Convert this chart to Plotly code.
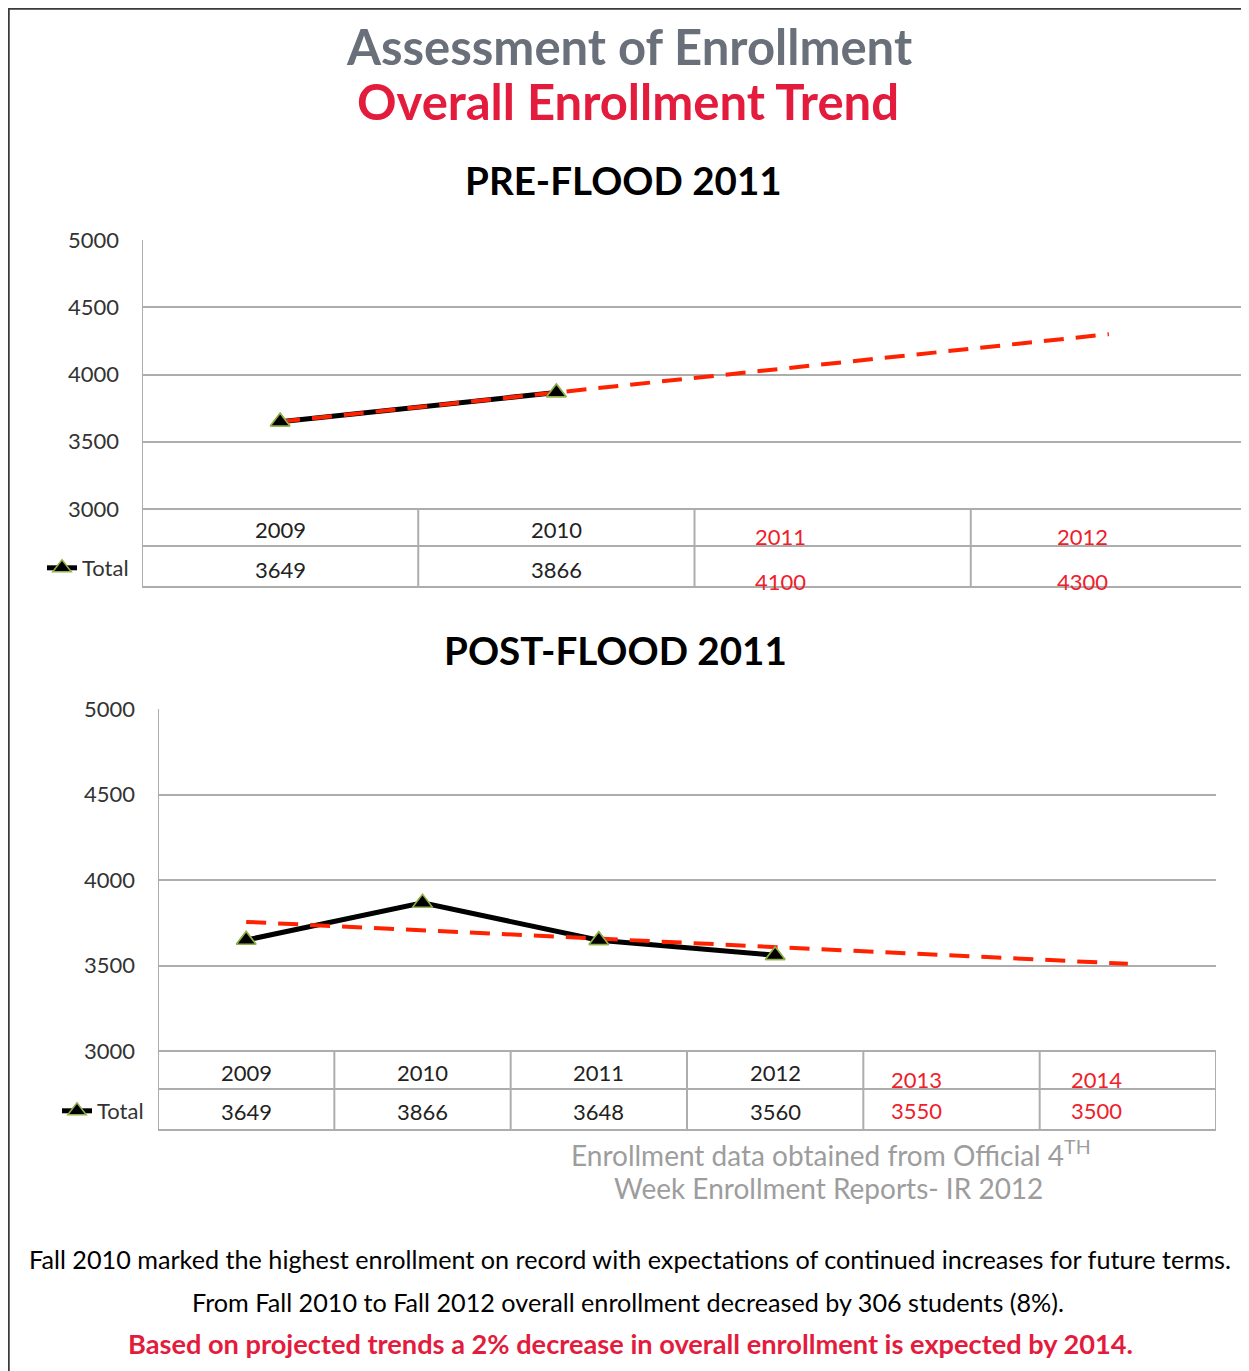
import plotly.graph_objects as go

# ---------------- data ----------------
years_pre = ["2009", "2010", "2011", "2012"]
actual_pre_years = ["2009", "2010"]
actual_pre = [3649, 3866]
trend_pre = [3649, 3866, 4085, 4300]
table_pre = ["3649", "3866", "4100", "4300"]
projected_pre = [False, False, True, True]

years_post = ["2009", "2010", "2011", "2012", "2013", "2014"]
actual_post_years = ["2009", "2010", "2011", "2012"]
actual_post = [3649, 3866, 3648, 3560]
trend_post = [3755, 3705, 3655, 3610, 3560, 3510]
table_post = ["3649", "3866", "3648", "3560", "3550", "3500"]
projected_post = [False, False, False, False, True, True]

y_ticks = [3000, 3500, 4000, 4500, 5000]

# ---------------- styles ----------------
OFF = 8                      # page body margin of the browser
W, H = 1249 - OFF, 1371 - OFF
FONT = "Lato, 'Open Sans', sans-serif"
GRID = "#adadad"
RED = "#f0202a"
TREND = "#ff2200"
TITLE_GRAY = "#6a7079"
TITLE_RED = "#e31b3c"
TXT = "#222222"


def px(x):
    return (x - OFF) / W


def py(y):
    return 1 - (y - OFF) / H


fig = go.Figure()

# chart geometry (reference pixels)
c1 = dict(x0=142, x1=1247, y0=240, y1=509, r1=546, r2=587, leg=20)
c2 = dict(x0=158, x1=1216, y0=709, y1=1051, r1=1089, r2=1130, leg=35)

marker = dict(symbol="triangle-up", size=17, color="black",
              line=dict(color="#8fb14a", width=1.5))


def add_chart(xr, yr, legend_name, years, act_years, act, trend):
    fig.add_trace(go.Scatter(x=act_years, y=act, mode="lines+markers",
                             name="Total", line=dict(color="black", width=5),
                             marker=marker, xaxis=xr, yaxis=yr,
                             legend=legend_name, showlegend=True))
    fig.add_trace(go.Scatter(x=years, y=trend, mode="lines",
                             line=dict(color=TREND, width=4, dash="20px,12px"),
                             xaxis=xr, yaxis=yr, showlegend=False))
    fig.add_trace(go.Scatter(x=act_years, y=act, mode="markers",
                             marker=marker, xaxis=xr, yaxis=yr, showlegend=False))


add_chart("x", "y", "legend", years_pre, actual_pre_years, actual_pre, trend_pre)
add_chart("x2", "y2", "legend2", years_post, actual_post_years, actual_post, trend_post)

axis_common = dict(showgrid=False, showticklabels=False, zeroline=False,
                   showline=False, fixedrange=True, automargin=False)
yaxis_common = dict(range=[3000, 5000], tickvals=y_ticks, showgrid=True,
                    gridcolor=GRID, gridwidth=2, zeroline=False, showline=False,
                    ticks="", ticklabelstandoff=22, automargin=False,
                    tickfont=dict(family=FONT, size=22, color="#333333"))

fig.update_layout(
    xaxis=dict(domain=[px(c1["x0"]), px(c1["x1"])], type="category",
               categoryarray=years_pre, range=[-0.5, len(years_pre) - 0.5],
               anchor="y", **axis_common),
    yaxis=dict(domain=[py(c1["y1"]), py(c1["y0"])], anchor="x", **yaxis_common),
    xaxis2=dict(domain=[px(c2["x0"]), min(1, px(c2["x1"]))], type="category",
                categoryarray=years_post, range=[-0.5, len(years_post) - 0.5],
                anchor="y2", **axis_common),
    yaxis2=dict(domain=[py(c2["y1"]), py(c2["y0"])], anchor="x2", **yaxis_common),
)

shapes = []
annotations = []


def table(xr, yr, c, years, values, projected, red_shift, dy):
    n = len(years)
    ph = c["y1"] - c["y0"]
    pw = c["x1"] - c["x0"]
    r1 = -(c["r1"] - c["y1"]) / ph
    r2 = -(c["r2"] - c["y1"]) / ph
    legx = -0.5 - (c["x0"] - c["leg"]) / (pw / n)
    line = dict(color=GRID, width=2)
    yd = yr + " domain"
    shapes.append(dict(type="line", xref=xr, yref=yd, x0=-0.5, x1=n - 0.5,
                       y0=0, y1=0, line=line))
    for yy in (r1, r2):
        shapes.append(dict(type="line", xref=xr, yref=yd, x0=legx, x1=n - 0.5,
                           y0=yy, y1=yy, line=line))
    shapes.append(dict(type="line", xref=xr, yref=yd, x0=-0.5, x1=-0.5,
                       y0=r2, y1=1, line=line))
    shapes.append(dict(type="line", xref=xr, yref=yd, x0=legx, x1=legx,
                       y0=r2, y1=r1, line=line))
    for i in range(n):
        shapes.append(dict(type="line", xref=xr, yref=yd, x0=i + 0.5, x1=i + 0.5,
                           y0=r2, y1=0, line=line))
    k = 0
    for i, (yrs, val, proj) in enumerate(zip(years, values, projected)):
        if proj:
            color, shift = RED, red_shift[k]
            oy1, oy2 = dy["red_year"], dy["red_val"]
            k += 1
        else:
            color, shift = TXT, 0
            oy1, oy2 = dy["year"], dy["val"]
        for s, oy in ((yrs, oy1), (val, oy2)):
            annotations.append(dict(x=i, y=-(oy - c["y1"]) / ph, xref=xr, yref=yd,
                                    text=s, showarrow=False, xshift=shift,
                                    xanchor="center", yanchor="middle",
                                    font=dict(family=FONT, size=22, color=color)))


table("x", "y", c1, years_pre, table_pre, projected_pre, [-52, -26],
      dict(year=529, val=569, red_year=536, red_val=581))
table("x2", "y2", c2, years_post, table_post, projected_post, [-35, -31],
      dict(year=1072, val=1111, red_year=1079, red_val=1110))

# page frame
frame = dict(color="#3a3a3a", width=2)
shapes.append(dict(type="line", xref="paper", yref="paper", x0=0, x1=1,
                   y0=0.9995, y1=0.9995, line=frame))
shapes.append(dict(type="line", xref="paper", yref="paper", x0=0.0006, x1=0.0006,
                   y0=1, y1=0, line=frame))


def text(x, y, s, size, color, bold=False):
    annotations.append(dict(x=px(x), y=py(y), xref="paper", yref="paper",
                            text=f"<b>{s}</b>" if bold else s, showarrow=False,
                            xanchor="center", yanchor="middle",
                            font=dict(family=FONT, size=size, color=color)))


text(629, 46, "Assessment of Enrollment", 49, TITLE_GRAY, True)
text(628, 101, "Overall Enrollment Trend", 49, TITLE_RED, True)
text(623, 180, "PRE-FLOOD 2011", 38.6, "black", True)
text(615, 650, "POST-FLOOD 2011", 38.6, "black", True)
text(831, 1153, "Enrollment data obtained from Official 4<sup>TH</sup>", 28, "#9d9d9d")
text(828, 1188, "Week Enrollment Reports- IR 2012", 28, "#9d9d9d")
text(630, 1259, "Fall 2010 marked the highest enrollment on record with expectations of continued increases for future terms.", 25.2, "black")
text(628, 1302, "From Fall 2010 to Fall 2012 overall enrollment decreased by 306 students (8%).", 25.2, "black")
text(630, 1343, "Based on projected trends a 2% decrease in overall enrollment is expected by 2014.", 27.2, TITLE_RED, True)

legend_common = dict(xanchor="left", yanchor="middle", bgcolor="rgba(0,0,0,0)",
                     font=dict(family=FONT, size=22, color="#333333"),
                     itemwidth=30, borderwidth=0)

fig.update_layout(
    width=W, height=H, margin=dict(l=0, r=0, t=0, b=0, autoexpand=False),
    paper_bgcolor="white", plot_bgcolor="white",
    shapes=shapes, annotations=annotations,
    legend=dict(x=px(42), y=py(568), **legend_common),
    legend2=dict(x=px(57), y=py(1111), **legend_common),
)

fig.write_html("out.html")
